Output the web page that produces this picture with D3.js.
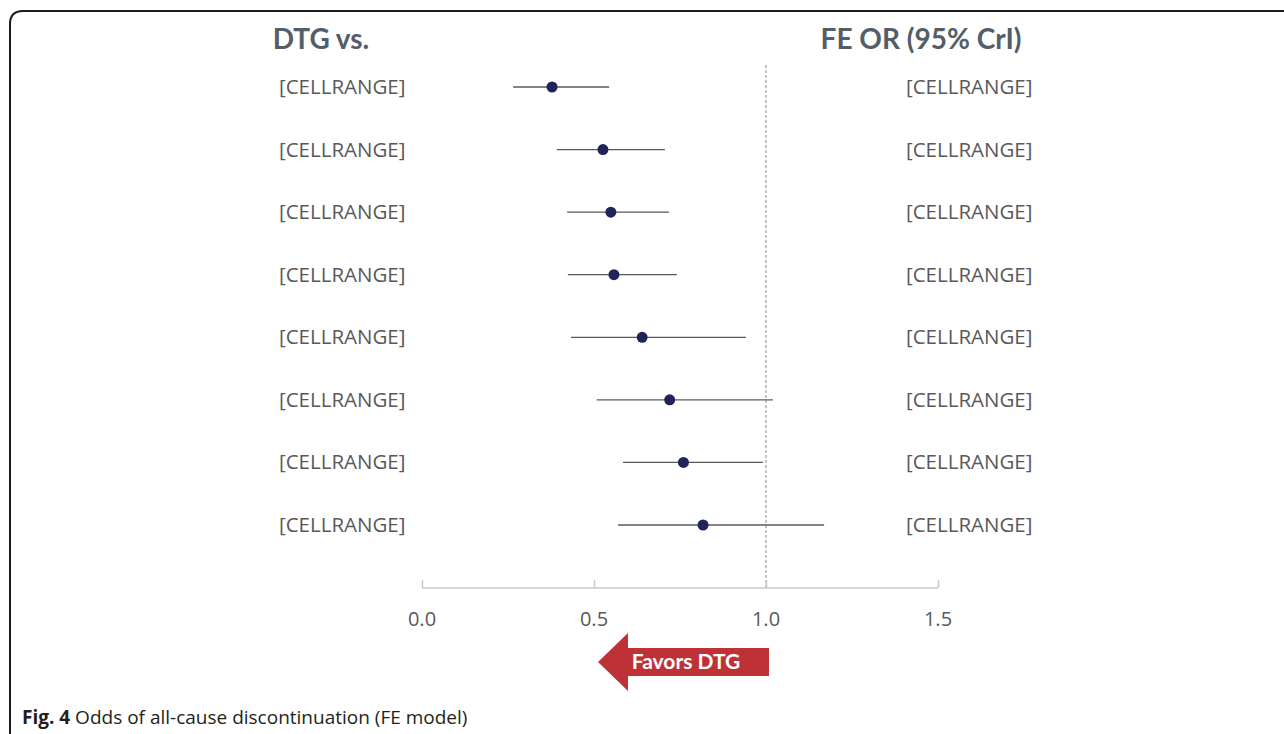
<!DOCTYPE html>
<html><head><meta charset="utf-8">
<script src="https://cdn.jsdelivr.net/npm/d3@7"></script>
<style>html,body{margin:0;padding:0;background:#fff;overflow:hidden}</style>
</head><body>
<script>
const comparators = ["[CELLRANGE]","[CELLRANGE]","[CELLRANGE]","[CELLRANGE]","[CELLRANGE]","[CELLRANGE]","[CELLRANGE]","[CELLRANGE]"];
const orLabels = ["[CELLRANGE]","[CELLRANGE]","[CELLRANGE]","[CELLRANGE]","[CELLRANGE]","[CELLRANGE]","[CELLRANGE]","[CELLRANGE]"];
const oddsRatio = [0.378, 0.526, 0.549, 0.558, 0.640, 0.720, 0.760, 0.817];
const lowerCrI  = [0.265, 0.392, 0.422, 0.424, 0.433, 0.508, 0.584, 0.570];
const upperCrI  = [0.544, 0.706, 0.718, 0.741, 0.942, 1.020, 0.991, 1.169];
const xTicks = [0.0, 0.5, 1.0, 1.5];
const refValue = 1.0;

const W = 1284, H = 734;
const svg = d3.select("body").append("svg").attr("width", W).attr("height", H);

// frame
svg.append("path")
  .attr("d", "M10,736 L10,24 Q10,11 23,11 L1290,11")
  .attr("fill","none").attr("stroke","#1a1a1a").attr("stroke-width",2);

const x = d3.scaleLinear().domain([0,1.5]).range([422,938]);
const idx = d3.range(oddsRatio.length);
const y = d3.scalePoint().domain(idx).range([87,525]);

// headers
svg.append("text").attr("x",321).attr("y",49).attr("text-anchor","middle")
  .attr("font-family","Lato, 'Open Sans', sans-serif").attr("font-weight","bold")
  .attr("font-size",28).attr("fill","#525e69").text("DTG vs.");
svg.append("text").attr("x",921).attr("y",49).attr("text-anchor","middle")
  .attr("font-family","Lato, 'Open Sans', sans-serif").attr("font-weight","bold")
  .attr("font-size",28).attr("fill","#525e69").text("FE OR (95% CrI)");

// reference dashed line
svg.append("line").attr("x1",x(refValue)).attr("x2",x(refValue)).attr("y1",65).attr("y2",588)
  .attr("stroke","#8a8a8a").attr("stroke-width",1).attr("stroke-dasharray","3,2");

// axis
const axisG = svg.append("g").attr("transform","translate(0,588)");
const axis = d3.axisTop(x).tickValues(xTicks).tickSize(8).tickFormat("");
axisG.call(axis);
axisG.select(".domain").attr("stroke","#c8c8c8").attr("stroke-width",1.5).attr("d","M422,0H938");
axisG.selectAll(".tick line").attr("stroke","#c8c8c8").attr("stroke-width",1.5);
svg.selectAll(".ticklab").data(xTicks).enter().append("text")
  .attr("x",d=>x(d)).attr("y",626).attr("text-anchor","middle")
  .attr("font-family","'Open Sans', 'Noto Sans', sans-serif").attr("font-size",20)
  .attr("fill","#595959").text(d=>d3.format(".1f")(d));

// rows
const fontRow = "'Open Sans', 'Noto Sans', sans-serif";
svg.selectAll(".lab").data(idx).enter().append("text")
  .attr("x",279).attr("y",i=>y(i)+7).attr("font-family",fontRow).attr("font-size",20.5)
  .attr("fill","#595959").text(i=>comparators[i]);
svg.selectAll(".rlab").data(idx).enter().append("text")
  .attr("x",906).attr("y",i=>y(i)+7).attr("font-family",fontRow).attr("font-size",20.5)
  .attr("fill","#595959").text(i=>orLabels[i]);
svg.selectAll(".ci").data(idx).enter().append("line")
  .attr("x1",i=>x(lowerCrI[i])).attr("x2",i=>x(upperCrI[i]))
  .attr("y1",i=>y(i)).attr("y2",i=>y(i))
  .attr("stroke","#5a5a5a").attr("stroke-width",1.3);
svg.selectAll(".pt").data(idx).enter().append("circle")
  .attr("cx",i=>x(oddsRatio[i])).attr("cy",i=>y(i)).attr("r",5.5)
  .attr("fill","#20245a");

// favors arrow
const ay = 662;
const tipX = 598, headBase = 628, endX = x(refValue)+3;
svg.append("path")
  .attr("d",`M${tipX},${ay} L${headBase},${ay-29} L${headBase},${ay-14} L${endX},${ay-14} L${endX},${ay+14} L${headBase},${ay+14} L${headBase},${ay+29} Z`)
  .attr("fill","#be3237");
svg.append("text").attr("x",686).attr("y",ay+7).attr("text-anchor","middle")
  .attr("font-family","Lato, 'Open Sans', sans-serif").attr("font-weight","bold")
  .attr("font-size",21).attr("fill","#fff").text("Favors DTG");

// caption
const cap = svg.append("text").attr("x",22).attr("y",724)
  .attr("font-family","'Open Sans', 'Noto Sans', sans-serif").attr("font-size",19).attr("fill","#231f20");
cap.append("tspan").attr("font-weight","bold").text("Fig. 4");
cap.append("tspan").text(" Odds of all-cause discontinuation (FE model)");
</script>
</body></html>
